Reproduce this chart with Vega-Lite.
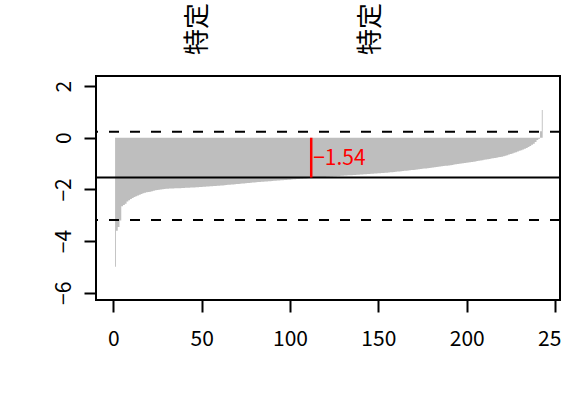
{
  "$schema": "https://vega.github.io/schema/vega-lite/v6.json",
  "width": 464,
  "height": 224,
  "autosize": {"type": "none"},
  "padding": {"left": 96, "top": 76, "right": 2, "bottom": 97},
  "config": {
    "view": {"stroke": "black", "strokeWidth": 2},
    "font": "Noto Sans CJK JP",
    "axis": {"grid": false, "domain": false, "tickColor": "black", "tickWidth": 2, "tickSize": 12, "labelFontSize": 21, "labelColor": "black", "labelFont": "Noto Sans CJK JP", "title": null, "labelFlush": false, "labelOverlap": false}
  },
  "datasets": {
    "vals": [
      {"i":1,"v":-4.99},{"i":2,"v":-3.6},{"i":3,"v":-3.45},{"i":4,"v":-3.2},{"i":5,"v":-2.65},{"i":6,"v":-2.6},{"i":7,"v":-2.55},{"i":8,"v":-2.47},{"i":9,"v":-2.42},{"i":10,"v":-2.37},
      {"i":11,"v":-2.33},{"i":12,"v":-2.29},{"i":13,"v":-2.26},{"i":14,"v":-2.24},{"i":15,"v":-2.21},{"i":16,"v":-2.18},{"i":17,"v":-2.15},{"i":18,"v":-2.13},{"i":19,"v":-2.11},{"i":20,"v":-2.1},
      {"i":21,"v":-2.09},{"i":22,"v":-2.07},{"i":23,"v":-2.05},{"i":24,"v":-2.03},{"i":25,"v":-2.02},{"i":26,"v":-2.01},{"i":27,"v":-2.0},{"i":28,"v":-1.99},{"i":29,"v":-1.98},{"i":30,"v":-1.97},
      {"i":31,"v":-1.97},{"i":32,"v":-1.965},{"i":33,"v":-1.96},{"i":34,"v":-1.96},{"i":35,"v":-1.955},{"i":36,"v":-1.955},{"i":37,"v":-1.95},{"i":38,"v":-1.95},{"i":39,"v":-1.945},{"i":40,"v":-1.945},
      {"i":41,"v":-1.94},{"i":42,"v":-1.94},{"i":43,"v":-1.935},{"i":44,"v":-1.93},{"i":45,"v":-1.93},{"i":46,"v":-1.925},{"i":47,"v":-1.92},{"i":48,"v":-1.915},{"i":49,"v":-1.91},{"i":50,"v":-1.905},
      {"i":51,"v":-1.9},{"i":52,"v":-1.895},{"i":53,"v":-1.89},{"i":54,"v":-1.885},{"i":55,"v":-1.88},{"i":56,"v":-1.875},{"i":57,"v":-1.87},{"i":58,"v":-1.865},{"i":59,"v":-1.86},{"i":60,"v":-1.855},
      {"i":61,"v":-1.85},{"i":62,"v":-1.845},{"i":63,"v":-1.84},{"i":64,"v":-1.83},{"i":65,"v":-1.824},{"i":66,"v":-1.818},{"i":67,"v":-1.811},{"i":68,"v":-1.805},{"i":69,"v":-1.798},{"i":70,"v":-1.792},
      {"i":71,"v":-1.786},{"i":72,"v":-1.78},{"i":73,"v":-1.773},{"i":74,"v":-1.767},{"i":75,"v":-1.761},{"i":76,"v":-1.754},{"i":77,"v":-1.748},{"i":78,"v":-1.742},{"i":79,"v":-1.735},{"i":80,"v":-1.729},
      {"i":81,"v":-1.723},{"i":82,"v":-1.716},{"i":83,"v":-1.71},{"i":84,"v":-1.705},{"i":85,"v":-1.7},{"i":86,"v":-1.694},{"i":87,"v":-1.689},{"i":88,"v":-1.684},{"i":89,"v":-1.679},{"i":90,"v":-1.674},
      {"i":91,"v":-1.668},{"i":92,"v":-1.663},{"i":93,"v":-1.658},{"i":94,"v":-1.653},{"i":95,"v":-1.647},{"i":96,"v":-1.642},{"i":97,"v":-1.637},{"i":98,"v":-1.632},{"i":99,"v":-1.626},{"i":100,"v":-1.621},
      {"i":101,"v":-1.616},{"i":102,"v":-1.61},{"i":103,"v":-1.605},{"i":104,"v":-1.6},{"i":105,"v":-1.594},{"i":106,"v":-1.589},{"i":107,"v":-1.584},{"i":108,"v":-1.578},{"i":109,"v":-1.573},{"i":110,"v":-1.568},
      {"i":111,"v":-1.562},{"i":112,"v":-1.557},{"i":113,"v":-1.552},{"i":114,"v":-1.546},{"i":115,"v":-1.541},{"i":116,"v":-1.536},{"i":117,"v":-1.53},{"i":118,"v":-1.525},{"i":119,"v":-1.521},{"i":120,"v":-1.516},
      {"i":121,"v":-1.511},{"i":122,"v":-1.507},{"i":123,"v":-1.502},{"i":124,"v":-1.498},{"i":125,"v":-1.493},{"i":126,"v":-1.488},{"i":127,"v":-1.484},{"i":128,"v":-1.479},{"i":129,"v":-1.475},{"i":130,"v":-1.47},
      {"i":131,"v":-1.465},{"i":132,"v":-1.461},{"i":133,"v":-1.456},{"i":134,"v":-1.451},{"i":135,"v":-1.447},{"i":136,"v":-1.442},{"i":137,"v":-1.438},{"i":138,"v":-1.433},{"i":139,"v":-1.428},{"i":140,"v":-1.424},
      {"i":141,"v":-1.419},{"i":142,"v":-1.414},{"i":143,"v":-1.41},{"i":144,"v":-1.405},{"i":145,"v":-1.4},{"i":146,"v":-1.395},{"i":147,"v":-1.39},{"i":148,"v":-1.385},{"i":149,"v":-1.38},{"i":150,"v":-1.375},
      {"i":151,"v":-1.37},{"i":152,"v":-1.365},{"i":153,"v":-1.36},{"i":154,"v":-1.355},{"i":155,"v":-1.35},{"i":156,"v":-1.345},{"i":157,"v":-1.34},{"i":158,"v":-1.333},{"i":159,"v":-1.325},{"i":160,"v":-1.318},
      {"i":161,"v":-1.311},{"i":162,"v":-1.304},{"i":163,"v":-1.296},{"i":164,"v":-1.289},{"i":165,"v":-1.282},{"i":166,"v":-1.275},{"i":167,"v":-1.267},{"i":168,"v":-1.26},{"i":169,"v":-1.252},{"i":170,"v":-1.244},
      {"i":171,"v":-1.235},{"i":172,"v":-1.227},{"i":173,"v":-1.219},{"i":174,"v":-1.211},{"i":175,"v":-1.203},{"i":176,"v":-1.195},{"i":177,"v":-1.186},{"i":178,"v":-1.178},{"i":179,"v":-1.17},{"i":180,"v":-1.161},
      {"i":181,"v":-1.152},{"i":182,"v":-1.143},{"i":183,"v":-1.134},{"i":184,"v":-1.125},{"i":185,"v":-1.115},{"i":186,"v":-1.106},{"i":187,"v":-1.097},{"i":188,"v":-1.088},{"i":189,"v":-1.079},{"i":190,"v":-1.07},
      {"i":191,"v":-1.06},{"i":192,"v":-1.05},{"i":193,"v":-1.04},{"i":194,"v":-1.03},{"i":195,"v":-1.02},{"i":196,"v":-1.01},{"i":197,"v":-1.0},{"i":198,"v":-0.99},{"i":199,"v":-0.98},{"i":200,"v":-0.97},
      {"i":201,"v":-0.96},{"i":202,"v":-0.95},{"i":203,"v":-0.938},{"i":204,"v":-0.926},{"i":205,"v":-0.915},{"i":206,"v":-0.903},{"i":207,"v":-0.891},{"i":208,"v":-0.879},{"i":209,"v":-0.867},{"i":210,"v":-0.855},
      {"i":211,"v":-0.844},{"i":212,"v":-0.832},{"i":213,"v":-0.82},{"i":214,"v":-0.807},{"i":215,"v":-0.795},{"i":216,"v":-0.782},{"i":217,"v":-0.77},{"i":218,"v":-0.757},{"i":219,"v":-0.745},{"i":220,"v":-0.732},
      {"i":221,"v":-0.72},{"i":222,"v":-0.697},{"i":223,"v":-0.674},{"i":224,"v":-0.651},{"i":225,"v":-0.629},{"i":226,"v":-0.606},{"i":227,"v":-0.583},{"i":228,"v":-0.56},{"i":229,"v":-0.533},{"i":230,"v":-0.507},
      {"i":231,"v":-0.48},{"i":232,"v":-0.453},{"i":233,"v":-0.427},{"i":234,"v":-0.4},{"i":235,"v":-0.36},{"i":236,"v":-0.32},{"i":237,"v":-0.27},{"i":238,"v":-0.23},{"i":239,"v":-0.16},{"i":240,"v":-0.09},
      {"i":241,"v":-0.04},{"i":242,"v":0.25},{"i":243,"v":1.07}
    ],
    "refs": [{"y": 0.23}, {"y": -3.18}],
    "meanline": [{"m": -1.54}],
    "marker": [{"x": 112, "y1": 0, "y2": -1.54, "ly": -0.82, "label": "−1.54"}],
    "toplabels": [{"x": 48, "y": 3.2, "t": "特定"}, {"x": 146, "y": 3.2, "t": "特定"}]
  },
  "layer": [
    {
      "data": {"name": "vals"},
      "mark": {"type": "area", "color": "#BEBEBE", "interpolate": "step", "opacity": 1},
      "encoding": {
        "x": {"field": "i", "type": "quantitative", "scale": {"domain": [-9.8, 252.8], "nice": false, "zero": false, "padding": 0},
              "axis": {"values": [0, 50, 100, 150, 200, 250], "labelPadding": 16}},
        "y": {"field": "v", "type": "quantitative", "scale": {"domain": [-6.28, 2.39], "nice": false, "zero": false},
              "axis": {"values": [2, 0, -2, -4, -6], "labelAngle": -90, "labelAlign": "center", "labelBaseline": "bottom", "labelPadding": 10}},
        "y2": {"datum": 0}
      }
    },
    {
      "data": {"name": "refs"},
      "mark": {"type": "rule", "color": "black", "strokeWidth": 2, "strokeDash": [10, 11]},
      "encoding": {"y": {"field": "y", "type": "quantitative"}}
    },
    {
      "data": {"name": "meanline"},
      "mark": {"type": "rule", "color": "black", "strokeWidth": 2},
      "encoding": {"y": {"field": "m", "type": "quantitative"}}
    },
    {
      "data": {"name": "marker"},
      "mark": {"type": "rule", "color": "red", "strokeWidth": 2.5},
      "encoding": {
        "x": {"field": "x", "type": "quantitative"},
        "y": {"field": "y1", "type": "quantitative"},
        "y2": {"field": "y2"}
      }
    },
    {
      "data": {"name": "marker"},
      "mark": {"type": "text", "color": "red", "fontSize": 21, "align": "left", "baseline": "middle", "dx": 2},
      "encoding": {
        "x": {"field": "x", "type": "quantitative"},
        "y": {"field": "ly", "type": "quantitative"},
        "text": {"field": "label"}
      }
    },
    {
      "data": {"name": "toplabels"},
      "mark": {"type": "text", "color": "black", "fontSize": 26, "angle": 270, "align": "left", "baseline": "middle"},
      "encoding": {
        "x": {"field": "x", "type": "quantitative"},
        "y": {"field": "y", "type": "quantitative"},
        "text": {"field": "t"}
      }
    }
  ]
}
